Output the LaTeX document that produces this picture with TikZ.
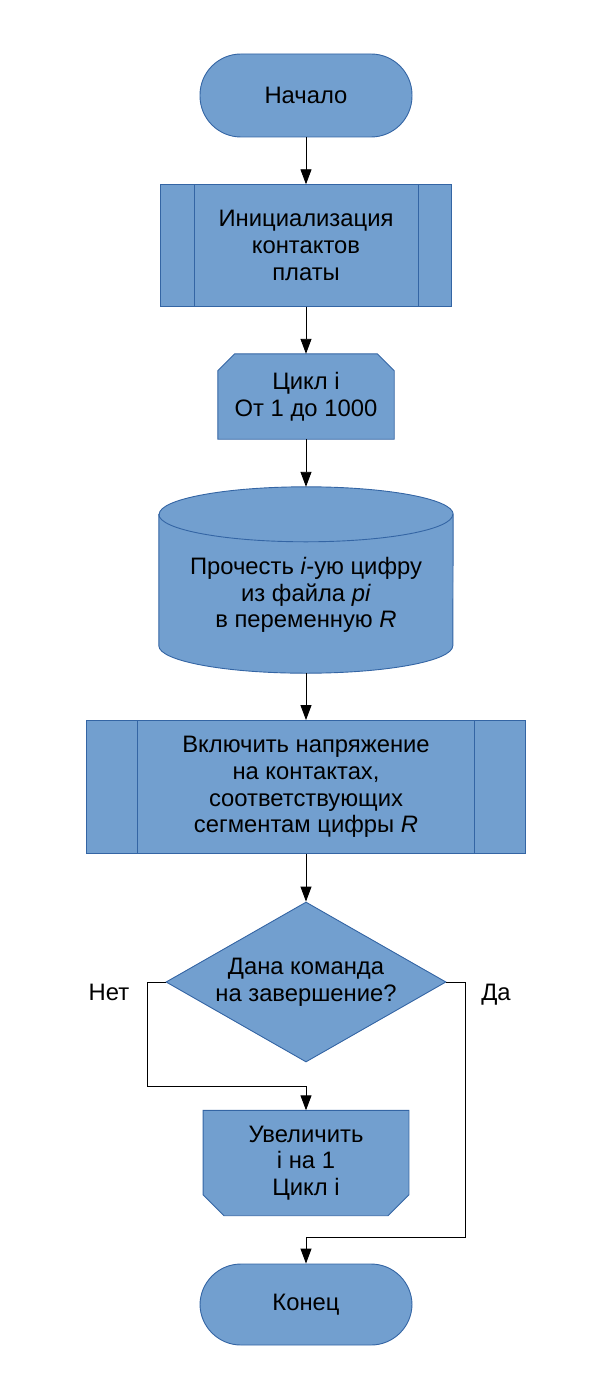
\documentclass[tikz,border=0pt]{standalone}
\usepackage{fontspec}
\setmainfont{Liberation Sans}
\usetikzlibrary{arrows.meta,shapes.geometric,calc,backgrounds}
\definecolor{boxfill}{HTML}{729FCF}
\definecolor{boxline}{HTML}{3465A4}
\begin{document}
\begin{tikzpicture}[x=1pt,y=-1pt,
  every node/.style={font=\fontsize{23.8}{26.7}\selectfont, text=black, inner sep=0pt},
  shapeline/.style={draw=boxline, fill=boxfill, line width=0.9pt},
  term/.style={shapeline, rounded corners=41pt, minimum width=212pt, align=center},
  predef/.style={shapeline, align=center},
  plain/.style={align=center},
  arr/.style={-{Triangle[length=15pt,width=11pt]}, line width=0.9pt, draw=black},
  lbl/.style={anchor=base}
]
\useasboundingbox (0,0) rectangle (605,1399);

% Start
\node[term, minimum height=83pt] (start) at (306,95.5) {Начало};

% Init (predefined process)
\node[predef, minimum width=291.5pt, minimum height=121.5pt] (init) at (306,245.5)
  {Инициализация\\контактов\\платы};
\draw[boxline, line width=0.9pt] ([xshift=34.5pt]init.north west) -- ([xshift=34.5pt]init.south west);
\draw[boxline, line width=0.9pt] ([xshift=-34pt]init.north east) -- ([xshift=-34pt]init.south east);

% Loop start
\node[plain, minimum width=176pt, minimum height=85pt] (loop) at (306,396.5) {Цикл i\\От 1 до 1000};
\begin{scope}[on background layer]
\filldraw[shapeline] ($(loop.north west)+(0,17)$) -- ($(loop.north west)+(17,0)$)
  -- ($(loop.north east)+(-17,0)$) -- ($(loop.north east)+(0,17)$)
  -- (loop.south east) -- (loop.south west) -- cycle;
\end{scope}

% Cylinder
\node[minimum width=294pt, minimum height=186pt] (cyl) at (306,580) {};
\begin{scope}[on background layer]
\filldraw[shapeline] ($(cyl.north west)+(0,27.5)$) -- ($(cyl.south west)+(0,-27.5)$)
  arc[start angle=180, end angle=0, x radius=147, y radius=27.5]
  -- ($(cyl.north east)+(0,27.5)$)
  arc[start angle=0, end angle=-180, x radius=147, y radius=27.5] -- cycle;
\draw[boxline, line width=0.9pt] ($(cyl.north west)+(0,27.5)$)
  arc[start angle=180, end angle=0, x radius=147, y radius=27.5];
\end{scope}
\node[plain] (cyltext) at (306,595) {Прочесть \textit{i}-ую цифру\\из файла \textit{pi}\\в переменную \textit{R}};

% Process 2 (predefined)
\node[predef, minimum width=438.5pt, minimum height=133pt] (proc) at (306,787)
  {Включить напряжение\\на контактах,\\соответствующих\\сегментам цифры \textit{R}};
\draw[boxline, line width=0.9pt] ([xshift=51.6pt]proc.north west) -- ([xshift=51.6pt]proc.south west);
\draw[boxline, line width=0.9pt] ([xshift=-51pt]proc.north east) -- ([xshift=-51pt]proc.south east);

% Decision
\node[diamond, shapeline, minimum width=280pt, minimum height=160pt, aspect=1.75] (dec) at (306,982) {};
\node[plain] (dectext) at (306,982) {Дана команда\\на завершение?};

% Loop end
\node[plain, minimum width=205.5pt, minimum height=105pt] (lend) at (306,1163) {Увеличить\\i на 1\\Цикл i};
\begin{scope}[on background layer]
\filldraw[shapeline] (lend.north west) -- (lend.north east)
  -- ($(lend.south east)+(0,-21)$) -- ($(lend.south east)+(-21,0)$)
  -- ($(lend.south west)+(21,0)$) -- ($(lend.south west)+(0,-21)$) -- cycle;
\end{scope}

% End
\node[term, minimum height=81pt] (stop) at (306,1304.5) {Конец};

% Labels
\node[lbl] (no) at (109,1000) {Нет};
\node[lbl] (yes) at (496,1000) {Да};

% Connectors
\draw[arr] (start.south) -- (init.north);
\draw[arr] (init.south) -- (loop.north);
\draw[arr] (loop.south) -- (cyl.north);
\draw[arr] (cyl.south) -- (proc.north);
\draw[arr] (proc.south) -- (dec.north);

\coordinate (nA) at (147.5,1086.5);
\draw[arr] (dec.west) -| (nA) -- (nA -| lend.north) -- (lend.north);

\coordinate (yA) at (465.5,1237);
\draw[arr] (dec.east) -| (yA) -- (yA -| stop.north) -- (stop.north);
\end{tikzpicture}
\end{document}
